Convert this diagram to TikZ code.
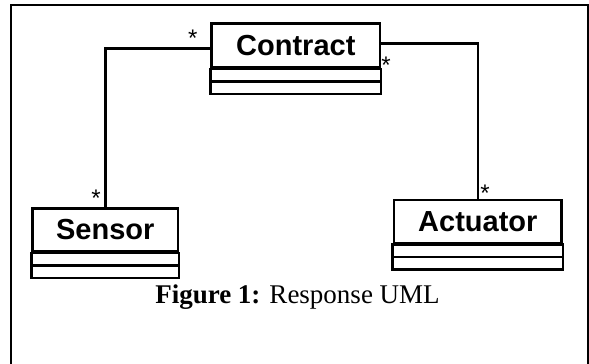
\documentclass[tikz,border=0pt]{standalone}
\usepackage{fontspec}
\setmainfont{Liberation Serif}
\setsansfont{Liberation Sans}

\tikzset{
    classbox/.style={draw, line width=2.5pt, inner sep=0pt, anchor=center,
        font=\sffamily\bfseries\fontsize{29}{30}\selectfont},
    mult/.style={inner sep=0pt, font=\sffamily\fontsize{24}{26}\selectfont},
    assoc/.style={line width=2.5pt}
}

\begin{document}
\begin{tikzpicture}[x=1pt, y=-1pt]
        \useasboundingbox (0,0) rectangle (589,364);
        % page frame, open at the bottom
        \draw[line width=2pt] (11,364) -- (11,5) -- (587.5,5) -- (587.5,364);

        % class headers
        \node[classbox, minimum width=168.3pt, minimum height=44.3pt] (contract) at (295.8,45.5) {Contract};
        \node[classbox, minimum width=145.3pt, minimum height=43.4pt] (sensor) at (105.3,230) {Sensor};
        \node[classbox, minimum width=167.7pt, minimum height=43.3pt] (actuator) at (477.8,221.7) {Actuator};

        % attribute and operation compartments
        \foreach \c in {contract,sensor,actuator} {
            \draw[line width=2.5pt] (\c.south west) rectangle ([yshift=-12.5pt]\c.south east);
            \draw[line width=2.5pt] ([yshift=-12.5pt]\c.south west) rectangle ([yshift=-25pt]\c.south east);
        }

        % associations
        \draw[assoc] ([yshift=-3pt]contract.west) -| (sensor.north);
        \draw[assoc] ([yshift=2pt]contract.east) -| (actuator.north);

        % multiplicities
        \node[mult] (m1) at (192.7,38) {*};
        \node[mult] (m2) at (96,198) {*};
        \node[mult] (m3) at (386,65) {*};
        \node[mult] (m4) at (485,193.3) {*};

        % caption
        \node[anchor=base, inner sep=0pt, font=\fontsize{27}{30}\selectfont] (caption) at (297.5,303)
            {\textbf{Figure 1:} Response UML};
    \end{tikzpicture}
\end{document}
